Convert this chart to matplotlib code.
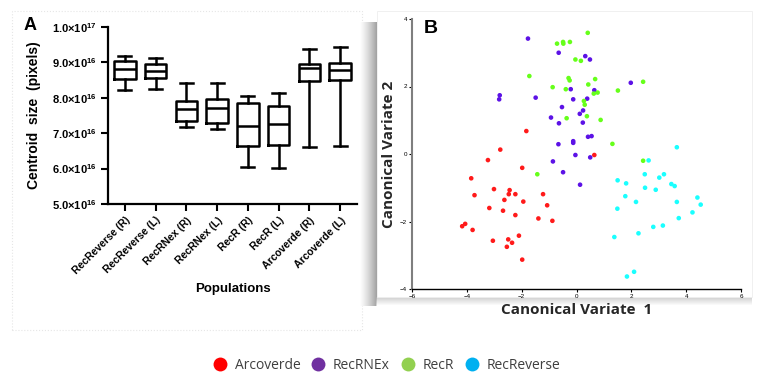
import matplotlib.pyplot as plt
from matplotlib.patches import Rectangle
from matplotlib.lines import Line2D

plt.rcParams['font.family'] = 'Liberation Sans'
plt.rcParams['mathtext.fontset'] = 'custom'
plt.rcParams['mathtext.rm'] = 'Liberation Sans:bold'
plt.rcParams['mathtext.it'] = 'Liberation Sans:bold'
plt.rcParams['mathtext.bf'] = 'Liberation Sans:bold'

# --- panel A: centroid size box plots (units of 1e16 pixels) ---
populations = ['RecReverse (R)', 'RecReverse (L)', 'RecRNex (R)', 'RecRNex (L)',
               'RecR (R)', 'RecR (L)', 'Arcoverde (R)', 'Arcoverde (L)']
whishi = [9.17, 9.12, 8.43, 8.43, 8.06, 8.14, 9.37, 9.43]
q3 = [9.03, 8.95, 7.90, 7.97, 7.85, 7.77, 8.95, 8.98]
med = [8.80, 8.75, 7.68, 7.71, 7.20, 7.26, 8.83, 8.78]
q1 = [8.52, 8.57, 7.34, 7.30, 6.65, 6.67, 8.47, 8.50]
whislo = [8.23, 8.25, 7.17, 7.12, 6.05, 6.02, 6.60, 6.63]
yticks_a = [5.0, 6.0, 7.0, 8.0, 9.0, 10.0]

# --- panel B: canonical variates ---
arco_x = [-1.83, -2.78, 0.65, -3.23, -1.98, -3.84, -3.01, -2.44, -3.72, -2.47, -2.23, -1.22,
          -2.63, -1.94, -1.07, -3.18, -2.68, -2.23, -1.39, -0.88, -4.06, -4.17, -3.79, -2.10,
          -3.05, -2.49, -2.35, -2.54, -1.98]
arco_y = [0.68, 0.13, -0.03, -0.18, -0.41, -0.72, -1.04, -1.07, -1.22, -1.19, -1.19, -1.19,
          -1.36, -1.41, -1.52, -1.60, -1.68, -1.81, -1.91, -1.98, -2.07, -2.14, -2.25, -2.42,
          -2.57, -2.53, -2.63, -2.75, -3.13]
rnex_x = [-1.77, -0.65, 0.32, 0.49, 1.98, -0.21, 0.65, -2.80, -2.82, -1.49, -0.12, 0.39,
          -0.53, 0.24, 0.12, -0.93, -0.64, 0.23, 0.42, 0.55, -0.66, -0.12, -0.12, -0.04,
          0.50, -0.86, -0.49, 0.13]
rnex_y = [3.42, 3.00, 2.90, 2.80, 2.11, 1.92, 1.89, 1.74, 1.62, 1.67, 1.62, 1.64,
          1.39, 1.29, 1.19, 1.08, 0.91, 0.93, 0.51, 0.53, 0.29, 0.38, 0.33, -0.03,
          -0.10, -0.22, -0.54, -0.91]
recr_x = [-0.71, -0.49, -0.48, -0.24, 0.41, -0.04, 0.16, -1.72, -0.29, -0.25, 0.68, 0.43,
          2.43, -0.87, -0.39, 0.63, 0.77, 1.51, 0.27, 0.30, 0.38, -0.36, 0.88, 1.31,
          2.43, -1.43]
recr_y = [3.27, 3.32, 3.27, 3.32, 3.59, 2.80, 2.76, 2.31, 2.25, 2.18, 2.22, 2.06,
          2.14, 1.98, 1.92, 1.79, 1.82, 1.88, 1.57, 1.46, 1.12, 1.06, 1.01, 0.30,
          -0.20, -0.60]
rrev_x = [3.66, 2.63, 2.49, 3.19, 3.02, 1.50, 1.81, 3.46, 3.58, 2.50, 2.89, 1.78,
          4.41, 2.17, 3.66, 4.53, 1.49, 4.23, 3.73, 2.80, 3.15, 2.26, 1.38, 2.10, 1.84]
rrev_y = [0.20, -0.19, -0.60, -0.60, -0.70, -0.78, -0.87, -0.89, -0.95, -1.00, -1.06, -1.25,
          -1.29, -1.42, -1.42, -1.50, -1.62, -1.73, -1.90, -2.16, -2.12, -2.35, -2.46, -3.49, -3.63]

legend_labels = ['Arcoverde', 'RecRNEx', 'RecR', 'RecReverse']
legend_colors = ['#ff0000', '#7030a0', '#92d050', '#00b0f0']
point_colors = ['#ff1a1a', '#5c12e6', '#66ff1a', '#1affff']

W, H = 778, 374
fig = plt.figure(figsize=(W / 100, H / 100), dpi=100)


def px_rect(x0, y0, x1, y1, **kw):
    # rectangle given in pixel coords from the top-left corner
    r = Rectangle((x0 / W, 1 - y1 / H), (x1 - x0) / W, (y1 - y0) / H,
                  transform=fig.transFigure, zorder=-5, **kw)
    fig.patches.append(r)


# panel frames
px_rect(12, 11, 362, 330, facecolor='white', edgecolor='#e6e6e6', linewidth=0.8, linestyle=':')
# soft drop shadow of panel B (left and bottom), drawn as 1px strips
for i in range(18):
    g = 1.0 - 0.36 * (i / 17) ** 1.3
    px_rect(359 + i, 22, 360 + i, 306, facecolor=(g, g, g), edgecolor='none')
for j in range(9):
    g = 0.70 + 0.30 * (j / 8)
    px_rect(376, 297 + j, 752, 298 + j, facecolor=(g, g, g), edgecolor='none', alpha=0.6)
px_rect(377, 11, 752, 297, facecolor='white', edgecolor='#eeeeee', linewidth=0.6)

# ---------------- panel A ----------------
axA = fig.add_axes([108 / W, 1 - 204 / H, 249 / W, 177 / H])
stats = []
for i, name in enumerate(populations):
    stats.append({'label': name, 'whislo': whislo[i] * 1e16, 'q1': q1[i] * 1e16,
                  'med': med[i] * 1e16, 'q3': q3[i] * 1e16, 'whishi': whishi[i] * 1e16,
                  'fliers': []})
lw = 1.8
axA.bxp(stats, positions=range(1, len(stats) + 1), widths=0.7, capwidths=0.42,
        showfliers=False, patch_artist=False,
        boxprops=dict(color='black', linewidth=lw),
        whiskerprops=dict(color='black', linewidth=lw),
        capprops=dict(color='black', linewidth=lw),
        medianprops=dict(color='black', linewidth=lw))
axA.set_xlim(0.45, 8.55)
axA.set_ylim(5.0e16, 10.0e16)
axA.set_yticks([v * 1e16 for v in yticks_a])
axA.set_yticklabels(['1.0×10$^{17}$' if v >= 10 else f'{v:.1f}×10$^{{16}}$' for v in yticks_a],
                    fontsize=8, fontweight='bold')
axA.set_xticks(range(1, len(populations) + 1))
axA.set_xticklabels(populations, rotation=45, ha='right', rotation_mode='anchor',
                    fontsize=7.5, fontweight='bold')
axA.tick_params(axis='both', direction='out', length=5, width=1.5, color='black', pad=3)
for s in ['top', 'right']:
    axA.spines[s].set_visible(False)
for s in ['left', 'bottom']:
    axA.spines[s].set_linewidth(1.6)
axA.set_ylabel('Centroid  size  (pixels)', fontsize=10, fontweight='bold', labelpad=8)
axA.set_xlabel('Populations', fontsize=9.5, fontweight='bold', labelpad=5)
axA.set_facecolor('none')
fig.text(30 / W, 1 - 25 / H, 'A', ha='center', va='center', fontsize=13, fontweight='bold')

# ---------------- panel B ----------------
axB = fig.add_axes([412 / W, 1 - 289 / H, 329 / W, 270 / H])
groups = [(arco_x, arco_y), (rnex_x, rnex_y), (recr_x, recr_y), (rrev_x, rrev_y)]
for (gx, gy), c in zip(groups, point_colors):
    axB.scatter(gx, gy, s=11, color=c, edgecolors='none', zorder=3)
axB.set_xlim(-6, 6)
axB.set_ylim(-4, 4)
axB.set_xticks([-6, -4, -2, 0, 2, 4, 6])
axB.set_yticks([-4, -2, 0, 2, 4])
axB.tick_params(axis='both', direction='out', length=2, width=0.8, labelsize=4.5, pad=1.5)
for s in ['top', 'right']:
    axB.spines[s].set_visible(False)
axB.spines['left'].set_color('#7f7f7f')
axB.spines['left'].set_linewidth(1.5)
axB.spines['bottom'].set_linewidth(1.0)
axB.set_facecolor('none')
axB.text(0.035, 0.995, 'B', transform=axB.transAxes, ha='left', va='top',
         fontsize=14, fontweight='bold')
axB.set_ylabel('Canonical Variate 2', family='Open Sans', fontsize=11, fontweight='bold',
               color='#262626', labelpad=3)
axB.set_xlabel('Canonical Variate  1', family='Open Sans', fontsize=11, fontweight='bold',
               color='#262626', labelpad=3)

# ---------------- legend ----------------
handles = [Line2D([], [], linestyle='none', marker='o', markersize=10,
                  markerfacecolor=c, markeredgecolor='none') for c in legend_colors]
fig.legend(handles, legend_labels, loc='center', bbox_to_anchor=(0.497, 0.024), ncol=4,
           frameon=False, handlelength=1.0, handletextpad=0.55, columnspacing=0.8,
           prop={'family': 'Open Sans', 'size': 10}, labelcolor='#404040')

fig.savefig('out.png', dpi=100)
